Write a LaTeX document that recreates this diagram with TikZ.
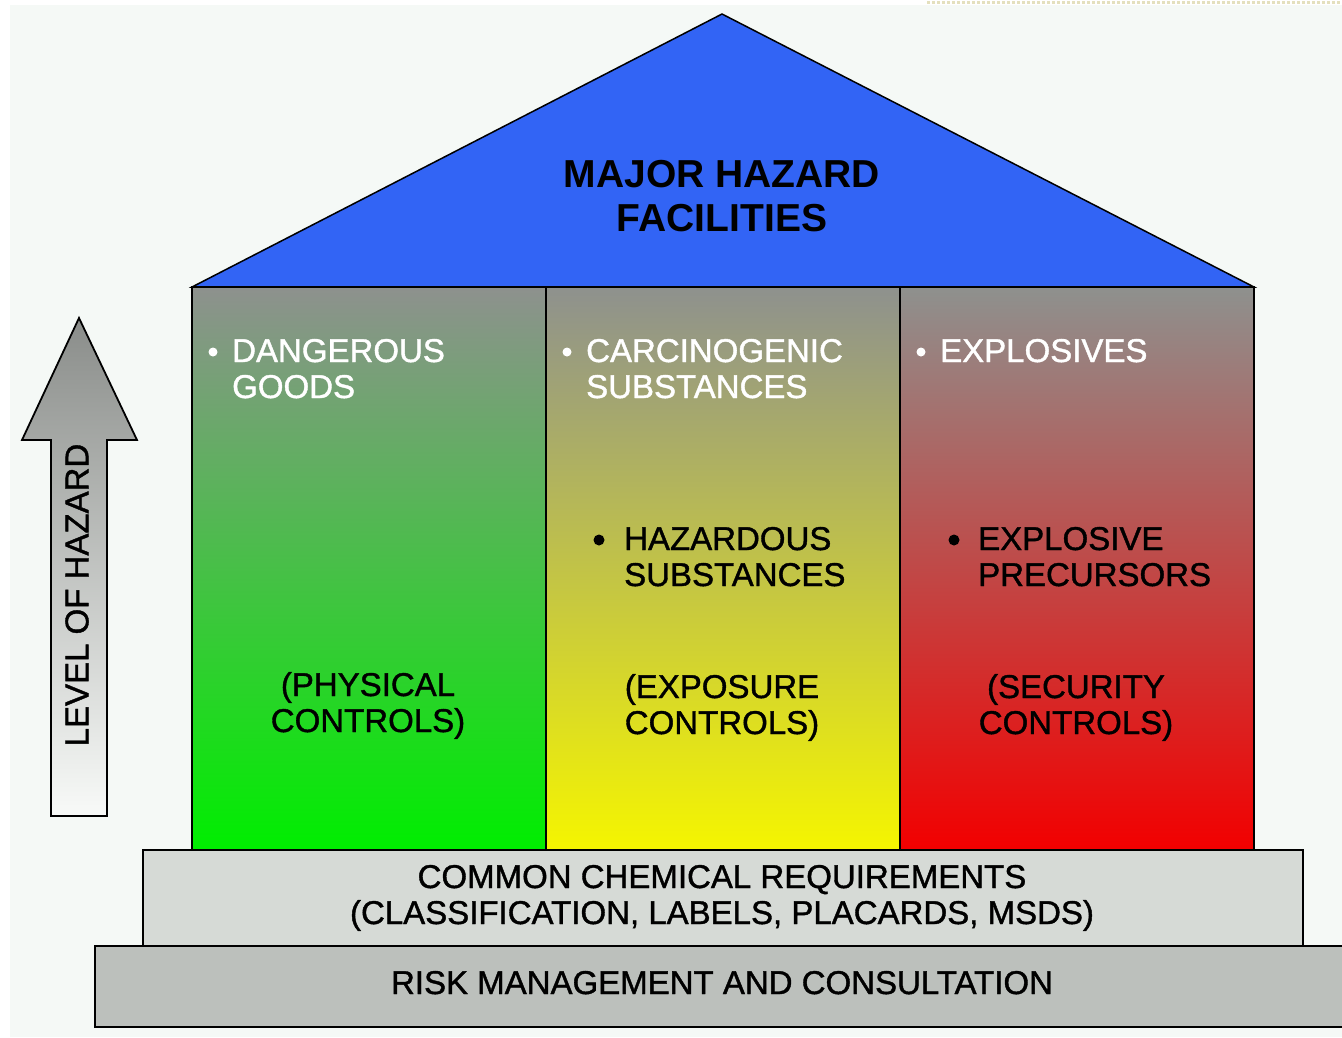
\documentclass[tikz,border=0pt]{standalone}
\usepackage{fontspec}
\setmainfont{Liberation Sans}
\newfontfamily\heavyfont[FakeBold=1.2]{Liberation Sans}
\definecolor{bgc}{RGB}{245,249,246}
\definecolor{roofblue}{RGB}{50,100,245}
\definecolor{colgray}{RGB}{142,145,142}
\definecolor{colgreen}{RGB}{0,238,0}
\definecolor{colyellow}{RGB}{245,245,0}
\definecolor{colred}{RGB}{242,0,0}
\definecolor{boxlight}{RGB}{214,218,214}
\definecolor{boxdark}{RGB}{188,192,188}
\definecolor{arrowtop}{RGB}{138,141,138}
\definecolor{arrowbot}{RGB}{248,250,248}
\definecolor{dotc}{RGB}{228,224,190}
\begin{document}
\begin{tikzpicture}[x=1pt,y=-1pt,
  edge/.style={draw=black, line width=1.5pt, line join=miter},
  lbl/.style={inner sep=0pt, font=\heavyfont\fontsize{33}{36}\selectfont},
  wlbl/.style={lbl, text=white, align=left, anchor=base west},
  blbl/.style={lbl, text=black, align=left, anchor=base west},
  clbl/.style={lbl, text=black, align=center, anchor=base},
  titlelbl/.style={inner sep=0pt, font=\fontsize{39}{44}\selectfont\bfseries, align=center, anchor=base},
  wdot/.style={fill=white},
  bdot/.style={fill=black}]
\useasboundingbox (0,0) rectangle (1342,1037);
\fill[white] (0,0) rectangle (1342,1037);
\fill[bgc] (10,5) rectangle (1342,1037);
\draw[dotc, line width=3pt, dotted] (927,2) -- (1342,2);
% roof
\filldraw[edge, fill=roofblue] (192,287) -- (722,14) -- (1254,287) -- cycle;
\node[titlelbl] (title) at (722,231) {MAJOR HAZARD\\FACILITIES};
% columns
\shade[top color=colgray, bottom color=colgreen] (192,287) rectangle (546,850);
\shade[top color=colgray, bottom color=colyellow] (546,287) rectangle (900,850);
\shade[top color=colgray, bottom color=colred] (900,287) rectangle (1254,850);
\draw[edge] (192,287) rectangle (1254,850);
\draw[edge] (546,287) -- (546,850);
\draw[edge] (900,287) -- (900,850);
% base boxes
\filldraw[edge, fill=boxdark] (95,946) rectangle (1360,1027);
\filldraw[edge, fill=boxlight] (143,850) rectangle (1303,946);
% arrow
\shadedraw[edge, line width=1.8pt, top color=arrowtop, bottom color=arrowbot]
  (79,318) -- (137,440) -- (107,440) -- (107,816) -- (51,816) -- (51,440) -- (22,440) -- cycle;
\node[lbl, rotate=90] (level) at (77,595) {LEVEL OF HAZARD};
% column texts
\fill[wdot] (213,352) circle (4.5);
\node[wlbl] (dg) at (232,398) {DANGEROUS\\GOODS};
\fill[wdot] (567,352) circle (4.5);
\node[wlbl] (cs) at (586,398) {CARCINOGENIC\\SUBSTANCES};
\fill[wdot] (921,352) circle (4.5);
\node[wlbl] (ex) at (940,362) {EXPLOSIVES};
\fill[bdot] (599,540) circle (5.5);
\node[blbl] (hs) at (624,586) {HAZARDOUS\\SUBSTANCES};
\fill[bdot] (954,540) circle (5.5);
\node[blbl] (ep) at (978,586) {EXPLOSIVE\\PRECURSORS};
\node[clbl] (pc) at (368,732) {(PHYSICAL\\CONTROLS)};
\node[clbl] (ec) at (722,734) {(EXPOSURE\\CONTROLS)};
\node[clbl] (sc) at (1076,734) {(SECURITY\\CONTROLS)};
% base texts
\node[clbl] (ccr) at (722,924) {COMMON CHEMICAL REQUIREMENTS\\(CLASSIFICATION, LABELS, PLACARDS, MSDS)};
\node[clbl] (rmc) at (722,994) {RISK MANAGEMENT AND CONSULTATION};
\end{tikzpicture}
\end{document}
